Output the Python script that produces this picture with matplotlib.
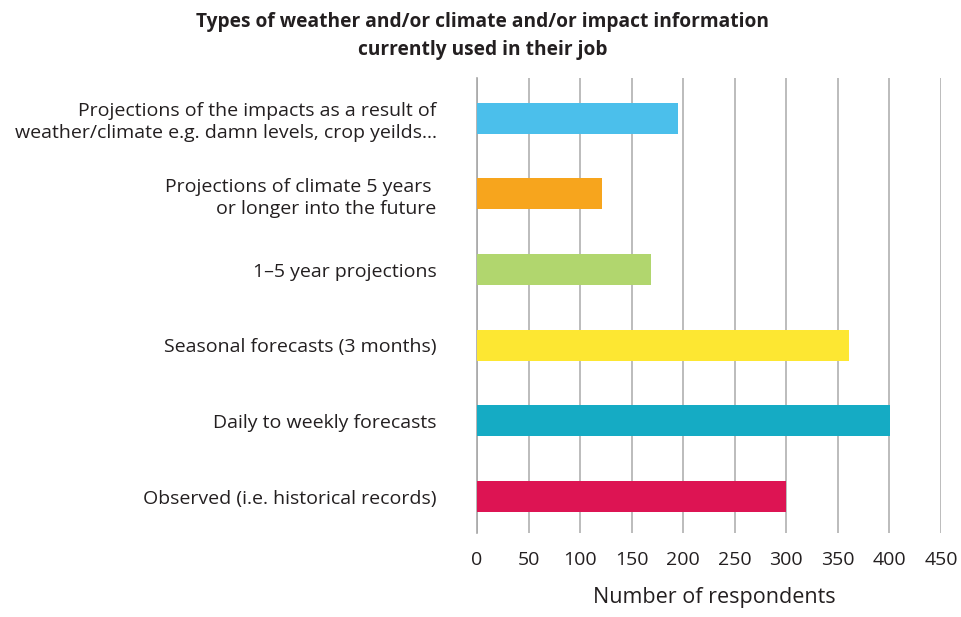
import matplotlib
matplotlib.use("Agg")
import matplotlib.pyplot as plt

# Survey responses: information types currently used on the job
categories = [
    "Observed (i.e. historical records)",
    "Daily to weekly forecasts",
    "Seasonal forecasts (3 months)",
    "1\u20135 year projections",
    "Projections of climate 5 years \nor longer into the future",
    "Projections of the impacts as a result of\nweather/climate e.g. damn levels, crop yeilds...",
]
respondents = [300, 401, 361, 169, 121, 195]
bar_colors = ["#DD1453", "#15ABC4", "#FDE732", "#B1D66E", "#F7A51D", "#4BBFEB"]
x_ticks = [0, 50, 100, 150, 200, 250, 300, 350, 400, 450]

plt.rcParams["font.family"] = ["Open Sans", "DejaVu Sans"]

fig = plt.figure(figsize=(9.62, 6.17), dpi=100)
ax = fig.add_axes([0.4958, 0.1361, 0.4824, 0.7375])

y = list(range(len(categories)))
ax.barh(y, respondents, height=0.41, color=bar_colors, zorder=3)

ax.set_xlim(0, 450)
ax.set_ylim(-0.48, 5.53)
ax.set_xticks(x_ticks)
ax.set_xticklabels([str(t) for t in x_ticks], fontsize=14, color="#231F20")
ax.set_yticks(y)
ax.set_yticklabels(categories, fontsize=14, color="#231F20", linespacing=1.3)
ax.tick_params(axis="both", length=0)
ax.tick_params(axis="y", pad=29)
ax.tick_params(axis="x", pad=13)

ax.grid(axis="x", color="#B0B0B0", linewidth=1.2, zorder=0)
for s in ["top", "right", "bottom"]:
    ax.spines[s].set_visible(False)
ax.spines["left"].set_color("#A8A8A8")
ax.spines["left"].set_linewidth(1.2)

ax.set_xlabel("Number of respondents", fontsize=15.5, color="#231F20", labelpad=17)
ax.xaxis.set_label_coords(0.5125, -0.118)

fig.text(0.502, 0.980, "Types of weather and/or climate and/or impact information\ncurrently used in their job",
         ha="center", va="top", fontsize=13.8, fontweight="bold", color="#231F20",
         linespacing=1.5)

fig.savefig("out.png", dpi=100, facecolor="white")
